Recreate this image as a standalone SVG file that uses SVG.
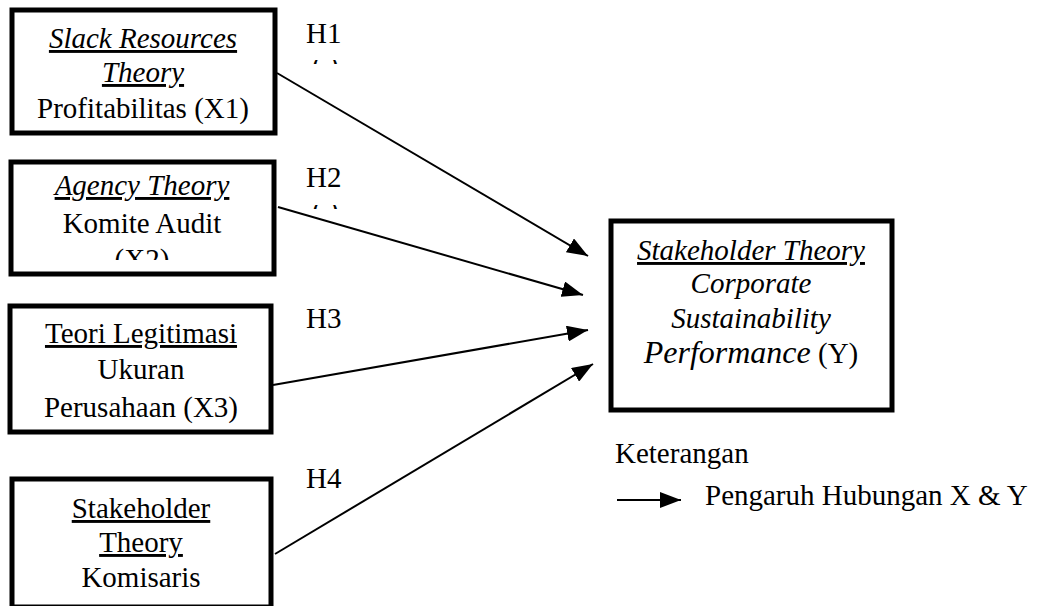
<svg xmlns="http://www.w3.org/2000/svg" width="1039" height="606" viewBox="0 0 1039 606">
<style>
.box{fill:#fff;stroke:#000;stroke-width:5}
.t{font-family:"Liberation Serif","Times New Roman",serif;font-size:29px;fill:#000;text-anchor:middle}
.l{font-family:"Liberation Serif","Times New Roman",serif;font-size:29px;fill:#000}
.i{font-style:italic}
.u{text-decoration:underline}
.c{stroke:#000;stroke-width:2;fill:none}
</style>
<defs>
<marker id="ah" markerUnits="userSpaceOnUse" markerWidth="22" markerHeight="16" refX="21" refY="8" orient="auto">
<path d="M0,0 L21,8 L0,16 Z" fill="#000"/>
</marker>
<clipPath id="clip2"><rect x="0" y="0" width="300" height="260"/></clipPath>
<clipPath id="clipm1"><rect x="300" y="60" width="50" height="4"/></clipPath>
<clipPath id="clipm2"><rect x="300" y="205" width="50" height="4"/></clipPath>
</defs>
<rect width="1039" height="606" fill="#fff"/>
<g id="connectors">
<line class="c" x1="277" y1="73" x2="588" y2="256" marker-end="url(#ah)"/>
<line class="c" x1="278" y1="207" x2="583" y2="295" marker-end="url(#ah)"/>
<line class="c" x1="273" y1="385" x2="588" y2="330" marker-end="url(#ah)"/>
<line class="c" x1="275" y1="554" x2="593" y2="364" marker-end="url(#ah)"/>
</g>
<g id="x1">
<rect class="box" x="12" y="10" width="263" height="123"/>
<text class="t i u" x="143" y="48">Slack Resources</text>
<text class="t i u" x="143" y="82">Theory</text>
<text class="t" x="143" y="118">Profitabilitas (X1)</text>
</g>
<g id="x2">
<rect class="box" x="11" y="162" width="263" height="112"/>
<text class="t i u" x="142" y="195">Agency Theory</text>
<text class="t" x="142" y="233">Komite Audit</text>
<text class="t" x="142" y="269" clip-path="url(#clip2)">(X2)</text>
</g>
<g id="x3">
<rect class="box" x="10" y="306" width="261" height="126"/>
<text class="t u" x="141" y="343">Teori Legitimasi</text>
<text class="t" x="141" y="379">Ukuran</text>
<text class="t" x="141" y="417">Perusahaan (X3)</text>
</g>
<g id="x4">
<rect class="box" x="12" y="479" width="259" height="128"/>
<text class="t u" x="141" y="518">Stakeholder</text>
<text class="t u" x="141" y="552">Theory</text>
<text class="t" x="141" y="587">Komisaris</text>
</g>
<g id="y">
<rect class="box" x="611" y="221" width="281" height="189"/>
<text class="t i u" x="751" y="260">Stakeholder Theory</text>
<text class="t i" x="751" y="293">Corporate</text>
<text class="t i" x="751" y="328">Sustainability</text>
<text class="t" x="751" y="363"><tspan class="i" font-size="32">Performance</tspan> (Y)</text>
</g>
<g id="labels">
<text class="l" x="306" y="43">H1</text>
<text class="l" x="306" y="187">H2</text>
<text class="l" x="306" y="328">H3</text>
<text class="l" x="306" y="488">H4</text>
<text class="l" font-size="20" x="312" y="76" clip-path="url(#clipm1)">(   )</text>
<text class="l" font-size="20" x="312" y="221" clip-path="url(#clipm2)">(   )</text>
</g>
<g id="legend">
<text class="l" x="615" y="463">Keterangan</text>
<line class="c" x1="617" y1="500" x2="681" y2="500" marker-end="url(#ah)"/>
<text class="l" font-size="30" x="705" y="505">Pengaruh Hubungan X &amp; Y</text>
</g>
</svg>
